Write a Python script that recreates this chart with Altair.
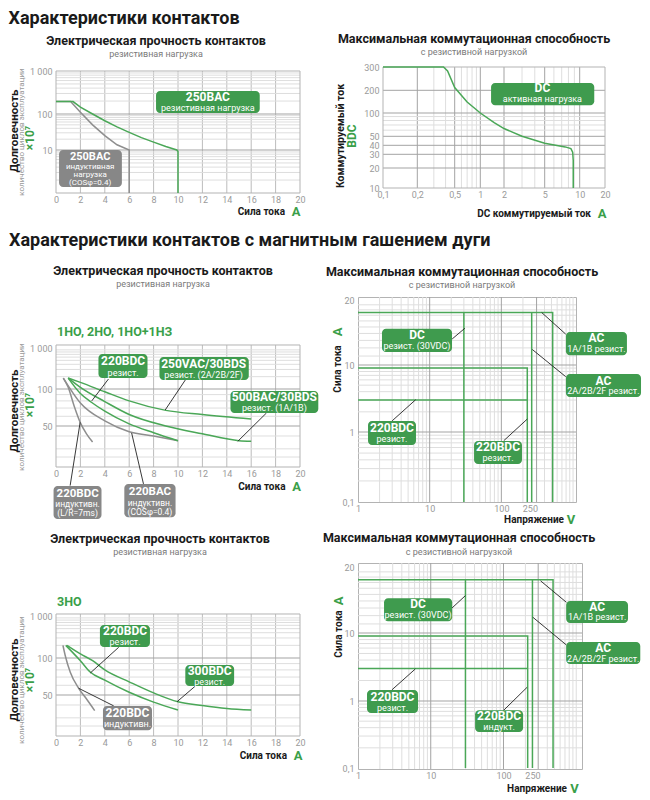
import altair as alt
import pandas as pd

FONT = "Roboto"
INK = "#1a1a1a"
GREEN_LINE = "#4aa757"
GREEN_BOX = "#3f9b4e"
GREEN_TXT = "#3a9f49"
GREY_LINE = "#8e8e8e"
GREY_BOX = "#878787"
GRID_MINOR = "#dedede"
GRID_MID = "#bcbcbc"
GRID_MAJOR = "#a3a3a3"
FRAME = "#b3b3b3"
LABEL = "#9a9a9a"
SUB = "#7a7a7a"
ONE = pd.DataFrame({"k": [0]})

# ======================= DATA =======================
# --- panel 1: electrical durability, 250 V AC ---
p1_x_ticks = [0, 2, 4, 6, 8, 10, 12, 14, 16, 18, 20]
p1_y_ticks = [10, 100, 1000]
p1_y_labels = ["10", "100", "1 000"]
p1_res_x = [0, 1.4, 2, 3, 4, 5, 6, 7, 8, 9, 9.9, 10, 10]
p1_res_y = [195, 195, 145, 100, 65, 44, 31, 22, 16.5, 12.5, 10, 9.2, 1]
p1_ind_x = [0, 1.2, 2, 3, 4, 5, 6, 6]
p1_ind_y = [195, 195, 110, 50, 25, 14, 10, 1]

# --- panel 2: DC breaking capacity ---
p2_x_ticks = [0.1, 0.2, 0.5, 1, 2, 5, 10, 20]
p2_x_labels = ["0,1", "0,2", "0,5", "1", "2", "5", "10", "20"]
p2_y_ticks = [10, 20, 30, 40, 50, 100, 200, 300]
p2_y_labels = ["10", "20", "30", "40", "50", "100", "200", "300"]
p2_dc_x = [0.1, 0.38, 0.42, 0.5, 0.7, 1, 1.5, 2, 3, 5, 7.5, 8.4, 8.7, 8.8, 8.8]
p2_dc_y = [300, 300, 280, 210, 140, 100, 75, 63, 50, 42, 38, 36, 32, 25, 10]

# --- panel 3: durability, 1НО / 2НО / 1НО+1НЗ ---
p3_y_ticks = [50, 100, 1000]
p3_y_labels = ["50", "100", "1 000"]
p3_vac250_x = [1.0, 2, 4, 6, 9, 12, 16]
p3_vac250_y = [185, 145, 95, 80, 67, 62, 57]
p3_vac500_x = [1.0, 2, 4, 6, 9, 12, 15, 16]
p3_vac500_y = [185, 110, 79, 62, 50, 42, 36, 35.5]
p3_dcres_x = [1.0, 2, 2.9, 4, 6, 8, 10]
p3_dcres_y = [185, 92, 78, 66, 52, 43, 36]
p3_acind_x = [0.6, 2, 4, 6, 8, 10]
p3_acind_y = [185, 77, 55, 44, 40, 36]
p3_dcind_x = [0.6, 1.0, 1.5, 2.0, 2.5, 3.0]
p3_dcind_y = [185, 110, 72, 53, 42, 35]

# --- panel 4: breaking capacity (1НО ...) ---
v_ticks = [1, 10, 100, 250]
v_labels = ["1", "10", "100", "250"]
a_ticks = [0.1, 1, 10, 20]
a_labels = ["0,1", "1", "10", "20"]
p4_ac1_x, p4_ac1_y = [1, 520, 520], [17.5, 17.5, 0.1]
p4_ac2_x, p4_ac2_y = [265, 265], [17.5, 0.1]
p4_dc_x, p4_dc_y = [30, 30], [17.5, 0.1]
p4_bdc9_x, p4_bdc9_y = [1, 230, 230], [9, 9, 0.1]
p4_bdc3_x, p4_bdc3_y = [1, 230], [3, 3]

# --- panel 5: durability, 3НО ---
p5_dc300_x = [0.9, 2, 3, 4, 6, 8, 10, 12, 14, 16]
p5_dc300_y = [200, 125, 95, 80, 64, 52, 43, 39.5, 37, 35.7]
p5_dc220_x = [0.8, 2, 2.8, 4, 6, 8, 10]
p5_dc220_y = [200, 95, 77, 66, 52.6, 42.6, 35.7]
p5_ind_x = [0.57, 0.76, 1.17, 1.86, 2.4, 3.17]
p5_ind_y = [200, 113, 76.5, 56.7, 47.5, 35.3]

# --- panel 6: breaking capacity (3НО) ---
p6_ac1_x, p6_ac1_y = [1, 480, 480], [17.5, 17.5, 0.1]
p6_ac2_x, p6_ac2_y = [250, 250], [17.5, 0.1]
p6_dc_x, p6_dc_y = [30, 30], [17.5, 0.1]
p6_bdc9_x, p6_bdc9_y = [1, 215, 215], [9, 9, 0.1]
p6_bdc3_x, p6_bdc3_y = [1, 215], [3, 3]

# grid values
lin_grid = [2, 4, 6, 8, 10, 12, 14, 16, 18]
log_minor_1 = [2, 3, 4, 5, 6, 7, 8, 9, 20, 30, 40, 50, 60, 70, 80, 90, 200, 300, 400, 500, 600, 700, 800, 900]
p35_minor = [25, 30, 40, 60, 70, 80, 90, 200, 300, 400, 500, 600, 700, 800, 900]
v_minor = [2, 3, 4, 5, 6, 7, 8, 9, 20, 30, 40, 50, 60, 70, 80, 90, 200, 400, 500, 600, 700, 800, 900, 1000]
a_minor = [0.2, 0.3, 0.4, 0.5, 0.6, 0.7, 0.8, 0.9, 2, 3, 4, 5, 6, 7, 8, 9, 11, 12, 13, 14, 15, 16, 17, 18, 19]

# annotation boxes: kind, x1, x2, y1, y2, cx, cy, lines(text, bold, dy, size)
p1_boxes = [
    ("g", 8.2, 16.7, 105, 343, 12.45, 190, [("250BAC", 1, -5, 12), ("резистивная нагрузка", 0, 6, 9)]),
    ("k", 0.25, 5.4, 1.38, 10, 2.8, 3.7, [("250BAC", 1, -11.5, 11), ("индуктивная", 0, -1.5, 8),
                                          ("нагрузка", 0, 6, 8), ("(COSφ=0.4)", 0, 14, 8)]),
]
p2_boxes = [("g", 1.37, 14.9, 127, 227, 4.75, 179, [("DC", 1, -5.5, 12), ("активная нагрузка", 0, 5.5, 9)])]
p3_boxes = [
    ("g", 3.48, 7.5, 185, 714, 5.5, 364, [("220BDC", 1, -5, 12), ("резист.", 0, 7, 9)]),
    ("g", 8.48, 15.8, 166, 603, 12.1, 316, [("250VAC/30BDS", 1, -5, 12), ("резист. (2A/2B/2F)", 0, 6.5, 9)]),
    ("g", 14.3, 21.5, 63.8, 96.3, 17.9, 78.4, [("500BAC/30BDS", 1, -5, 12), ("резист. (1A/1B)", 0, 6.5, 9)]),
    ("k", -0.2, 3.73, 6.26, 13.1, 1.77, 9.1, [("220BDC", 1, -8.5, 11.5), ("индуктивн.", 0, 2, 8.5),
                                              ("(L/R=7ms)", 0, 11, 8.5)]),
    ("k", 5.6, 9.8, 6.5, 13.7, 7.7, 9.4, [("220BAC", 1, -8.5, 11.5), ("индуктивн.", 0, 2, 8.5),
                                          ("(COSφ=0.4)", 0, 11, 8.5)]),
]
p3_pointers = [(4.3, 175, 2.93, 80), (10.6, 166, 8.95, 67.5), (17.25, 63.8, 14.9, 35.5),
               (1.16, 13.2, 1.98, 53.6), (7.17, 13.7, 6.2, 42.8)]
p4_boxes = [
    ("g", 2.16, 20.5, 11.5, 14.7, 6.65, 13.0, [("DC", 1, -5, 12), ("резист. (30VDC)", 0, 5.5, 9)]),
    ("g", 795, 5650, 11.1, 14.2, 2120, 12.6, [("AC", 1, -5, 12), ("1A/1B резист.", 0, 5.5, 9)]),
    ("g", 795, 8880, 3.33, 7.34, 2650, 4.94, [("AC", 1, -5, 12), ("2A/2B/2F резист.", 0, 5.5, 9)]),
    ("g", 1.38, 6.44, 0.652, 1.46, 2.98, 0.97, [("220BDC", 1, -5, 12), ("резист.", 0, 6, 9)]),
    ("g", 41.6, 194, 0.349, 0.744, 89.8, 0.51, [("220BDC", 1, -5, 12), ("резист.", 0, 6, 9)]),
]
p4_pointers = [(20.6, 13.2, 31, 14.8), (790, 13.9, 365, 17.5), (790, 6.7, 270, 11.8),
               (3.0, 1.47, 6.37, 3.03), (108, 0.751, 230, 1.56)]
p5_boxes = [
    ("g", 3.6, 7.7, 183, 610, 5.66, 334, [("220BDC", 1, -5, 12), ("резист.", 0, 6, 9)]),
    ("g", 10.6, 14.6, 59.2, 87.7, 12.6, 72, [("300BDC", 1, -5, 12), ("резист.", 0, 6, 9)]),
    ("k", 3.85, 7.87, 22.8, 39.0, 5.86, 29.9, [("220BDC", 1, -5, 12), ("индуктивн.", 0, 6, 9)]),
]
p5_pointers = [(5.14, 180, 2.81, 75.5), (11.4, 58.9, 9.92, 43), (4.73, 39.2, 1.86, 56.7)]
p6_boxes = [
    ("g", 2.28, 19.7, 11.3, 14.4, 6.69, 12.8, [("DC", 1, -5, 12), ("резист. (30VDC)", 0, 5.5, 9)]),
    ("g", 727, 5150, 11.1, 14.0, 1940, 12.5, [("AC", 1, -5, 12), ("1A/1B резист.", 0, 5.5, 9)]),
    ("g", 727, 7590, 3.5, 7.37, 2350, 5.08, [("AC", 1, -5, 12), ("2A/2B/2F резист.", 0, 5.5, 9)]),
    ("g", 1.33, 6.69, 0.66, 1.45, 2.98, 0.98, [("220BDC", 1, -5, 12), ("резист.", 0, 6, 9)]),
    ("g", 40.7, 186, 0.345, 0.73, 87, 0.50, [("220BDC", 1, -5, 12), ("индукт.", 0, 6, 9)]),
]
p6_pointers = [(19.6, 13.0, 29.9, 14.8), (733, 13.8, 323, 17.3), (733, 6.66, 253, 11.8),
               (2.93, 1.46, 6.14, 2.96), (101, 0.73, 211, 1.59)]


# ======================= HELPERS =======================
def make_axis(values, labels, orient, pad, offset=None):
    expr = " : ".join(f"datum.value == {v} ? '{s}'" for v, s in zip(values, labels)) + " : ''"
    kw = dict(values=values, labelExpr=expr, orient=orient, grid=False, ticks=False, domain=False,
              labelFont=FONT, labelFontSize=9, labelColor=LABEL, labelPadding=pad,
              labelFlush=False, labelOverlap=False)
    if offset is not None:
        kw["offset"] = offset
    return alt.Axis(**kw)


def ptext(text, x, y, size, color, bold=True, angle=0, align="center"):
    kw = dict(text=text, fontSize=size, color=color, font=FONT, align=align, baseline="middle")
    if bold:
        kw["fontWeight"] = "bold"
    if angle:
        kw["angle"] = angle
    return alt.Chart(ONE).mark_text(**kw).encode(x=alt.value(x), y=alt.value(y))


def ptitle(text, sub, dx, offset):
    return alt.TitleParams(text=text, subtitle=sub, anchor="middle", frame="group", dx=dx, offset=offset,
                           font=FONT, fontSize=12.5, fontWeight="bold", color=INK,
                           subtitleFont=FONT, subtitleFontSize=9, subtitleColor=SUB, subtitlePadding=3)


def build(xs, ys, xa, ya, w, h, grids, curves, boxes, pointers, texts, title, frame=None, top=0):
    def X(f):
        return alt.X(f, type="quantitative", scale=xs, axis=xa, title=None)

    def Y(f):
        return alt.Y(f, type="quantitative", scale=ys, axis=ya, title=None)

    L = []
    for g in grids:
        df = pd.DataFrame({"v": g["vals"]})
        if g["dir"] == "v":
            enc = {"x": X("v")}
            if "ext" in g:
                df["a"], df["b"] = g["ext"]
                enc.update(y=Y("a"), y2=alt.Y2("b"))
        else:
            enc = {"y": Y("v")}
            if "ext" in g:
                df["a"], df["b"] = g["ext"]
                enc.update(x=X("a"), x2=alt.X2("b"))
        L.append(alt.Chart(df).mark_rule(color=g["color"], strokeWidth=1).encode(**enc))
    if frame:
        df = pd.DataFrame([dict(zip(["x1", "x2", "y1", "y2"], frame))])
        L.append(alt.Chart(df).mark_rect(fill="transparent", stroke=FRAME, strokeWidth=1).encode(
            x=X("x1"), x2=alt.X2("x2"), y=Y("y1"), y2=alt.Y2("y2")))
    for xv, yv, color, interp in curves:
        df = pd.DataFrame({"x": xv, "y": yv, "i": list(range(len(xv)))})
        L.append(alt.Chart(df).mark_line(color=color, strokeWidth=1.5, interpolate=interp).encode(
            x=X("x"), y=Y("y"), order="i:Q"))
    if pointers:
        df = pd.DataFrame(pointers, columns=["x", "y", "x2", "y2"])
        L.append(alt.Chart(df).mark_rule(color="#222222", strokeWidth=0.9).encode(
            x=X("x"), y=Y("y"), x2=alt.X2("x2"), y2=alt.Y2("y2")))
    for kind, x1, x2, y1, y2, cx, cy, lines in boxes:
        color = GREEN_BOX if kind == "g" else GREY_BOX
        df = pd.DataFrame([{"x1": x1, "x2": x2, "y1": y1, "y2": y2}])
        L.append(alt.Chart(df).mark_rect(color=color, cornerRadius=4).encode(
            x=X("x1"), x2=alt.X2("x2"), y=Y("y1"), y2=alt.Y2("y2")))
        for text, bold, dy, size in lines:
            tdf = pd.DataFrame([{"x": cx, "y": cy, "t": text}])
            kw = dict(color="white", font=FONT, fontSize=size, dy=dy, align="center", baseline="middle")
            if bold:
                kw["fontWeight"] = "bold"
            L.append(alt.Chart(tdf).mark_text(**kw).encode(x=X("x"), y=Y("y"), text="t:N"))
    for t in texts:
        t = dict(t)
        t["y"] = t["y"] + top
        L.append(ptext(**t))
    ch = alt.layer(*L).properties(width=w, height=h, title=title)
    if frame:
        ch = ch.properties(view=alt.ViewBackground(stroke="transparent"))
    return ch


def ytitles(y_bold, y_grey, y_green):
    return [
        dict(text="Долговечность", x=-41, y=y_bold, size=11.5, color=INK, angle=270),
        dict(text="количество циклов эксплуатации", x=-34, y=y_grey, size=8, color=LABEL, bold=False, angle=270),
        dict(text="×10⁷", x=-26, y=y_green, size=12, color=GREEN_TXT, angle=270),
    ]


def xtitle(label, unit, xr, xu, y):
    return [dict(text=label, x=xr, y=y, size=10, color=INK, align="right"),
            dict(text=unit, x=xu, y=y, size=13, color=GREEN_TXT)]


def spacer(h, title=None):
    c = alt.Chart(ONE).mark_point(opacity=0, size=1).encode(x=alt.value(0), y=alt.value(0)).properties(
        width=1, height=h, view=alt.ViewBackground(stroke="transparent"))
    if title is not None:
        c = c.properties(title=title)
    return c


T_EL = "Электрическая прочность контактов"
T_MAX = "Максимальная коммутационная способность"
S_RES = "резистивная нагрузка"
S_RES2 = "с резистивной нагрузкой"

lin_x = alt.Scale(domain=[0, 20], nice=False, zero=False)
lin_xa = make_axis(p1_x_ticks, [str(v) for v in p1_x_ticks], "bottom", 2)

# ---------- panel 1 (plot area starts 4 px below the row top) ----------
p1 = build(
    lin_x,
    alt.Scale(type="log", domain=[1, 10, 100, 1000], range=[126, 83, 47, 4], nice=False),
    lin_xa, make_axis(p1_y_ticks, p1_y_labels, "left", 4), 244, 126,
    [dict(dir="v", vals=lin_grid, color=GRID_MID, ext=(1, 1000)),
     dict(dir="h", vals=log_minor_1, color=GRID_MINOR),
     dict(dir="h", vals=[10, 100], color=GRID_MAJOR)],
    [(p1_ind_x, p1_ind_y, GREY_LINE, "linear"), (p1_res_x, p1_res_y, GREEN_LINE, "linear")],
    p1_boxes, [], ytitles(60, 61, 67) + xtitle("Сила тока", "A", 229, 240, 141),
    ptitle(T_EL, S_RES, -22, 8), frame=(0, 20, 1, 1000), top=4)

# ---------- panel 2 ----------
p2 = build(
    alt.Scale(type="log", domain=[0.1, 0.2, 0.5, 1, 2, 5, 10, 20],
              range=[25, 59.3, 96.7, 122.3, 146, 186.7, 221.7, 247], nice=False),
    alt.Scale(type="log", domain=[10, 20, 30, 40, 50, 100, 200, 300],
              range=[121, 101, 87.3, 78.3, 69.3, 46, 23.3, 0], nice=False),
    make_axis(p2_x_ticks, p2_x_labels, "bottom", 2),
    make_axis(p2_y_ticks, p2_y_labels, "left", 4, offset=-25), 247, 121,
    [dict(dir="v", vals=[0.3, 0.4, 0.6, 0.7, 0.8, 0.9, 3, 4, 6, 7, 8, 9], color=GRID_MINOR),
     dict(dir="v", vals=[0.2, 0.5, 1, 2, 5, 10], color=GRID_MAJOR),
     dict(dir="h", vals=[60, 70, 80, 90], color=GRID_MINOR, ext=(0.1, 20)),
     dict(dir="h", vals=[20, 30, 40, 50, 100, 200], color=GRID_MAJOR, ext=(0.1, 20))],
    [(p2_dc_x, p2_dc_y, GREEN_LINE, "linear")],
    p2_boxes, [],
    [dict(text="Коммутируемый ток", x=-17, y=69, size=10.5, color=INK, angle=270),
     dict(text="BDC", x=-6, y=69, size=12, color=GREEN_TXT, angle=270)]
    + xtitle("DC коммутируемый ток", "A", 233, 244, 147),
    ptitle(T_MAX, S_RES2, -7.5, 6),
    frame=(0.1, 20, 10, 300))

# ---------- panel 3 (plot area starts 48 px below the row top) ----------
p3 = build(
    lin_x, alt.Scale(type="log", domain=[20, 50, 100, 1000], range=[170, 129, 92, 51], nice=False),
    lin_xa, make_axis(p3_y_ticks, p3_y_labels, "left", 4), 244, 170,
    [dict(dir="v", vals=lin_grid, color=GRID_MID, ext=(20, 1184)),
     dict(dir="h", vals=p35_minor, color=GRID_MINOR),
     dict(dir="h", vals=[50, 100], color=GRID_MAJOR)],
    [(p3_dcind_x, p3_dcind_y, GREY_LINE, "monotone"), (p3_acind_x, p3_acind_y, GREY_LINE, "monotone"),
     (p3_dcres_x, p3_dcres_y, GREEN_LINE, "monotone"), (p3_vac500_x, p3_vac500_y, GREEN_LINE, "monotone"),
     (p3_vac250_x, p3_vac250_y, GREEN_LINE, "monotone")],
    p3_boxes, p3_pointers,
    [dict(text="1НО, 2НО, 1НО+1НЗ", x=1, y=-13, size=12.5, color=GREEN_TXT, align="left")]
    + ytitles(66, 62, 60) + xtitle("Сила тока", "A", 229.5, 240.5, 141.5),
    ptitle(T_EL, S_RES, -15, 8), frame=(0, 20, 20, 1184), top=48)

# ---------- panel 4 ----------
a_axis = make_axis(a_ticks, a_labels, "left", 4)
v_axis = make_axis(v_ticks, v_labels, "bottom", 2)
p4 = build(
    alt.Scale(type="log", domain=[1, 1100], nice=False),
    alt.Scale(type="log", domain=[0.1, 1, 10, 20], range=[205, 135, 68, 3], nice=False),
    v_axis, a_axis, 218, 205,
    [dict(dir="v", vals=v_minor, color=GRID_MINOR),
     dict(dir="h", vals=a_minor, color=GRID_MINOR),
     dict(dir="v", vals=[10, 100, 310], color=GRID_MAJOR),
     dict(dir="h", vals=[1, 10], color=GRID_MAJOR)],
    [(p4_ac1_x, p4_ac1_y, GREEN_LINE, "linear"), (p4_ac2_x, p4_ac2_y, GREEN_LINE, "linear"),
     (p4_dc_x, p4_dc_y, GREEN_LINE, "linear"), (p4_bdc9_x, p4_bdc9_y, GREEN_LINE, "linear"),
     (p4_bdc3_x, p4_bdc3_y, GREEN_LINE, "linear")],
    p4_boxes, p4_pointers,
    [dict(text="Сила тока", x=-20, y=72, size=10, color=INK, angle=270),
     dict(text="A", x=-20, y=35, size=13, color=GREEN_TXT, angle=270)]
    + xtitle("Напряжение", "V", 206, 213, 223),
    ptitle(T_MAX, S_RES2, -5, 6))

# ---------- panel 5 (plot area starts 51 px below the row top) ----------
p5 = build(
    lin_x, alt.Scale(type="log", domain=[20, 50, 100, 1000], range=[173, 132, 95, 53], nice=False),
    lin_xa, make_axis(p3_y_ticks, p3_y_labels, "left", 4), 244, 173,
    [dict(dir="v", vals=lin_grid, color=GRID_MID, ext=(20, 1116)),
     dict(dir="h", vals=p35_minor, color=GRID_MINOR),
     dict(dir="h", vals=[50, 100], color=GRID_MAJOR)],
    [(p5_ind_x, p5_ind_y, GREY_LINE, "monotone"), (p5_dc220_x, p5_dc220_y, GREEN_LINE, "monotone"),
     (p5_dc300_x, p5_dc300_y, GREEN_LINE, "monotone")],
    p5_boxes, p5_pointers,
    [dict(text="3НО", x=1, y=-12.5, size=12.5, color=GREEN_TXT, align="left")]
    + ytitles(66, 66, 66) + xtitle("Сила тока", "A", 231, 242, 142),
    ptitle(T_EL, S_RES, -18, 6), frame=(0, 20, 20, 1116), top=51)

# ---------- panel 6 ----------
p6 = build(
    alt.Scale(type="log", domain=[1, 1200], nice=False),
    alt.Scale(type="log", domain=[0.1, 1, 10, 20], range=[205, 138, 70, 4], nice=False),
    v_axis, a_axis, 224, 206,
    [dict(dir="v", vals=v_minor, color=GRID_MINOR),
     dict(dir="h", vals=a_minor, color=GRID_MINOR),
     dict(dir="v", vals=[10, 100, 300], color=GRID_MAJOR),
     dict(dir="h", vals=[1, 10], color=GRID_MAJOR)],
    [(p6_ac1_x, p6_ac1_y, GREEN_LINE, "linear"), (p6_ac2_x, p6_ac2_y, GREEN_LINE, "linear"),
     (p6_dc_x, p6_dc_y, GREEN_LINE, "linear"), (p6_bdc9_x, p6_bdc9_y, GREEN_LINE, "linear"),
     (p6_bdc3_x, p6_bdc3_y, GREEN_LINE, "linear")],
    p6_boxes, p6_pointers,
    [dict(text="Сила тока", x=-19, y=71, size=10, color=INK, angle=270),
     dict(text="A", x=-19, y=38, size=13, color=GREEN_TXT, angle=270)]
    + xtitle("Напряжение", "V", 209, 216.5, 226),
    ptitle(T_MAX, S_RES2, -11, 6))

sec2 = alt.TitleParams(text="Характеристики контактов с магнитным гашением дуги", anchor="start", frame="group",
                       dx=-47, offset=-37, font=FONT, fontSize=18, fontWeight="bold", color=INK)

cells = [p1, p2, spacer(64, sec2), spacer(64), p3, p4, spacer(21), spacer(21), p5, p6]

chart = alt.concat(*cells, columns=2, align="none", bounds="flush",
                   spacing={"row": 20, "column": 58}).properties(
    title=alt.TitleParams(text="Характеристики контактов", anchor="start", offset=4,
                          font=FONT, fontSize=18, fontWeight="bold", color=INK),
    padding={"top": 2, "left": 0, "right": 0, "bottom": 0},
).configure_view(stroke=FRAME, strokeWidth=1)

chart.save("out.html", embed_options={"renderer": "svg", "actions": False})
